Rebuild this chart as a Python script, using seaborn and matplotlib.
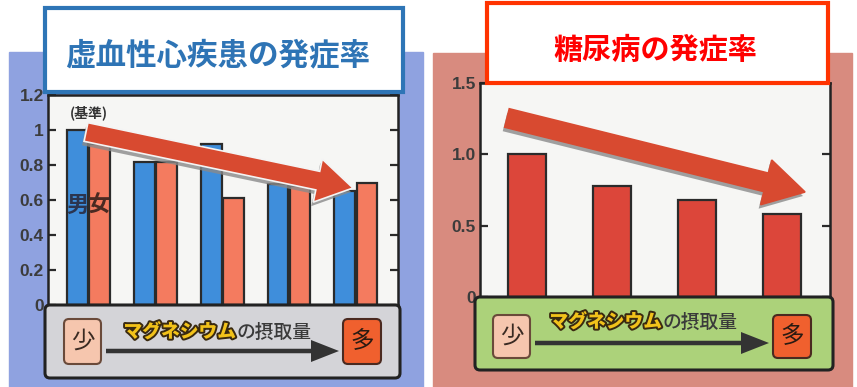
import matplotlib
matplotlib.use('Agg')
import matplotlib.pyplot as plt
import matplotlib.font_manager as fm
import matplotlib.patheffects as pe
from matplotlib.patches import Rectangle, FancyBboxPatch, FancyArrow
import seaborn as sns
import pandas as pd

sns.set_style('white')
plt.rcParams['font.family'] = ['Noto Sans CJK JP', 'DejaVu Sans']

# ---------------- data ----------------
intake_levels = ['1', '2', '3', '4', '5']
heart_male = [1.00, 0.82, 0.92, 0.69, 0.65]
heart_female = [0.92, 0.82, 0.61, 0.68, 0.70]
heart_yticks = [0, 0.2, 0.4, 0.6, 0.8, 1.0, 1.2]
heart_yticklabels = ['0', '0.2', '0.4', '0.6', '0.8', '1', '1.2']

diabetes_levels = ['1', '2', '3', '4']
diabetes_rate = [1.00, 0.78, 0.68, 0.58]
diab_yticks = [0, 0.5, 1.0, 1.5]
diab_yticklabels = ['0', '0.5', '1.0', '1.5']

title_heart = '虚血性心疾患の発症率'
title_diab = '糖尿病の発症率'
band_kata = 'マグネシウム'
band_rest = 'の摂取量'
label_low, label_high = '少', '多'
label_base = '(基準)'
label_male, label_female = '男', '女'

# ---------------- fonts ----------------
available = {f.name for f in fm.fontManager.ttflist}
if 'Liberation Sans Narrow' in available:
    tick_font = 'Liberation Sans Narrow'
elif 'Liberation Sans' in available:
    tick_font = 'Liberation Sans'
else:
    tick_font = 'DejaVu Sans'

W, H = 857, 387
fig = plt.figure(figsize=(W / 100, H / 100), dpi=100)
fig.patch.set_facecolor('white')


def px_axes(x0, y0, x1, y1, **kw):
    return fig.add_axes([x0 / W, 1 - y1 / H, (x1 - x0) / W, (y1 - y0) / H], **kw)


def overlay(z):
    a = px_axes(0, 0, W, H, zorder=z)
    a.set_xlim(0, W)
    a.set_ylim(H, 0)
    a.axis('off')
    a.patch.set_alpha(0)
    return a


# backgrounds
bg = overlay(0)
bg.add_patch(Rectangle((9, 52), 414, 335, color='#8fa2e0'))
bg.add_patch(Rectangle((433, 53), 419, 334, color='#d88b7f'))


def style_axes(ax, yt, ytl, ylim, xlim):
    ax.set_facecolor('#f6f6f4')
    ax.set_xlim(*xlim)
    ax.set_ylim(*ylim)
    ax.set_yticks(yt, ytl)
    ax.set_xticks([])
    ax.set_xlabel('')
    ax.set_ylabel('')
    ax.tick_params(axis='y', direction='in', length=6, width=1.6, left=True, right=True,
                   labelsize=12.5, pad=3, colors='#2a2a2a')
    for lab in ax.get_yticklabels():
        lab.set_fontfamily(tick_font)
        lab.set_fontweight('bold')
        lab.set_color('#3c3c3c')
    for s in ax.spines.values():
        s.set_color('#222222')
        s.set_linewidth(1.8)


# ---------------- left chart ----------------
ax1 = px_axes(48, 95, 398, 305, zorder=1)
df1 = pd.DataFrame({
    'level': intake_levels * 2,
    'sex': [label_male] * len(intake_levels) + [label_female] * len(intake_levels),
    'rate': heart_male + heart_female,
})
sns.barplot(data=df1, x='level', y='rate', hue='sex',
            palette={label_male: '#3f8edb', label_female: '#f47b5f'}, saturation=1,
            width=0.66, gap=0.06, edgecolor='#2b2b2b', linewidth=1.6,
            errorbar=None, legend=False, ax=ax1)
style_axes(ax1, heart_yticks, heart_yticklabels, (0, 1.2), (-0.605, 4.63))
ax1.text(-0.165, 0.57, label_male, ha='center', va='center', fontsize=16,
         fontweight='bold', color='#2b3550')
ax1.text(0.165, 0.57, label_female, ha='center', va='center', fontsize=16,
         fontweight='bold', color='#4a2a22')
ax1.text(0.0, 1.1, label_base, ha='center', va='center', fontsize=10,
         fontweight='bold', color='#333333')

# ---------------- right chart ----------------
ax2 = px_axes(480, 83, 830, 297, zorder=1)
df2 = pd.DataFrame({'level': diabetes_levels, 'rate': diabetes_rate})
sns.barplot(data=df2, x='level', y='rate', color='#dc463a', saturation=1,
            width=0.45, edgecolor='#2b2b2b', linewidth=1.6, errorbar=None, ax=ax2)
style_axes(ax2, diab_yticks, diab_yticklabels, (0, 1.5), (-0.55, 3.56))

# ---------------- overlay decorations ----------------
ov = overlay(5)


def big_arrow(x0, y0, x1, y1, body, head_w, head_len, edge):
    shadow = FancyArrow(x0 - 2, y0 + 4, x1 - x0, y1 - y0, width=body, head_width=head_w,
                        head_length=head_len, length_includes_head=True,
                        fc='#8a8a8a', ec='none', alpha=0.8)
    ov.add_patch(shadow)
    arr = FancyArrow(x0, y0, x1 - x0, y1 - y0, width=body, head_width=head_w,
                     head_length=head_len, length_includes_head=True,
                     fc='#d84a30', ec=edge, lw=1.2)
    ov.add_patch(arr)


big_arrow(86, 132, 353, 188, 19, 44, 36, '#f4f4f4')
big_arrow(507, 118, 805, 192, 19, 46, 40, '#d84a30')


def band(x, y, w, h, fc, low_x, high_x, box_y, box_h, arrow_y, text_split, text_y):
    ov.add_patch(FancyBboxPatch((x, y), w, h, boxstyle='round,pad=0,rounding_size=5',
                                fc=fc, ec='#222222', lw=2.2))
    ov.add_patch(FancyBboxPatch((low_x, box_y), 37, box_h, boxstyle='round,pad=0,rounding_size=5',
                                fc='#f6c6ae', ec='#6a4a3a', lw=1.5))
    ov.add_patch(FancyBboxPatch((high_x, box_y), 38, box_h, boxstyle='round,pad=0,rounding_size=5',
                                fc='#f0602e', ec='#4a2a20', lw=1.5))
    ov.text(low_x + 18.5, box_y + box_h / 2, label_low, ha='center', va='center',
            fontsize=17, color='#3a2a22')
    ov.text(high_x + 19, box_y + box_h / 2, label_high, ha='center', va='center',
            fontsize=17, color='#2a1a12')
    ov.add_patch(FancyArrow(low_x + 42, arrow_y, high_x - low_x - 46, 0, width=4.5,
                            head_width=22, head_length=28, length_includes_head=True,
                            fc='#333333', ec='none'))
    ov.text(text_split, text_y, band_kata, ha='right', va='center', fontsize=13.5,
            fontweight='heavy', color='#f2c21a',
            path_effects=[pe.withStroke(linewidth=2.8, foreground='#3a2a10')])
    ov.text(text_split + 1, text_y, band_rest, ha='left', va='center', fontsize=13.5,
            fontweight='medium', color='#3a3a3a')


band(45, 305, 355, 73, '#d4d4d8', 64, 343, 319, 45, 351, 236, 332)
band(475, 297, 358, 73, '#acd27a', 493, 773, 315, 43, 343, 662, 322)

# title boxes
ov.add_patch(Rectangle((45, 8), 358, 84, fc='white', ec='#2e75b6', lw=3))
ov.text(218, 55, title_heart, ha='center', va='center', fontsize=22,
        fontweight='bold', color='#2e74b5')
ov.add_patch(Rectangle((487, 3), 341, 80, fc='white', ec='#ff3300', lw=3))
ov.text(655, 50, title_diab, ha='center', va='center', fontsize=21,
        fontweight='bold', color='#ff0000')

fig.savefig('out.png', dpi=100, facecolor='white')
